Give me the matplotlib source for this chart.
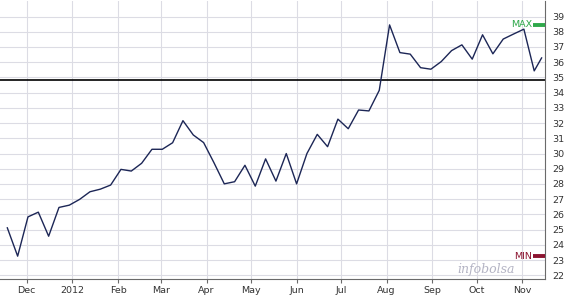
import numpy as np
import pandas as pd
import matplotlib
matplotlib.use('Agg')
from matplotlib import pyplot as plt
import matplotlib.dates as mdates

# weekly closes
dates = ['2011-11-18', '2011-11-25', '2011-12-02', '2011-12-09', '2011-12-16',
         '2011-12-23', '2011-12-30', '2012-01-06', '2012-01-13', '2012-01-20',
         '2012-01-27', '2012-02-03', '2012-02-10', '2012-02-17', '2012-02-24',
         '2012-03-02', '2012-03-09', '2012-03-16', '2012-03-23', '2012-03-30',
         '2012-04-06', '2012-04-13', '2012-04-20', '2012-04-27', '2012-05-04',
         '2012-05-11', '2012-05-18', '2012-05-25', '2012-06-01', '2012-06-08',
         '2012-06-15', '2012-06-22', '2012-06-29', '2012-07-06', '2012-07-13',
         '2012-07-20', '2012-07-27', '2012-08-03', '2012-08-10', '2012-08-17',
         '2012-08-24', '2012-08-31', '2012-09-07', '2012-09-14', '2012-09-21',
         '2012-09-28', '2012-10-05', '2012-10-12', '2012-10-19', '2012-10-26',
         '2012-11-02', '2012-11-09', '2012-11-14']
close = [25.12, 23.26, 25.84, 26.15, 24.57, 26.46, 26.61, 26.99, 27.49, 27.66,
         27.93, 28.96, 28.85, 29.36, 30.28, 30.28, 30.71, 32.16, 31.22, 30.72,
         29.40, 28.01, 28.15, 29.23, 27.86, 29.65, 28.19, 30.00, 28.01, 30.00,
         31.26, 30.45, 32.26, 31.63, 32.86, 32.80, 34.15, 38.45, 36.63, 36.53,
         35.64, 35.54, 36.04, 36.76, 37.14, 36.20, 37.80, 36.55, 37.52, 37.85,
         38.17, 35.43, 36.28]
ref_level = 34.8

month_ticks = ['2011-12-01', '2012-01-01', '2012-02-01', '2012-03-01', '2012-04-01',
               '2012-05-01', '2012-06-01', '2012-07-01', '2012-08-01', '2012-09-01',
               '2012-10-01', '2012-11-01']
month_labels = ['Dec', '2012', 'Feb', 'Mar', 'Apr', 'May', 'Jun', 'Jul', 'Aug',
                'Sep', 'Oct', 'Nov']
y_ticks = list(range(22, 40))

t = pd.to_datetime(dates)
close = np.array(close)

fig = plt.figure(figsize=(5.68, 3.01), dpi=100)
ax = fig.add_axes([0.0, 0.0731, 0.960, 0.9236])

ax.plot(t, close, color='#1c2656', lw=1.0, zorder=3)
ax.axhline(ref_level, color='black', lw=1.2, zorder=2)

ax.set_xlim(pd.Timestamp('2011-11-13 01:00'), pd.Timestamp('2012-11-16 12:00'))
ax.set_ylim(21.76, 40.02)

ax.set_xticks(pd.to_datetime(month_ticks))
ax.set_xticklabels(month_labels)
ax.set_yticks(y_ticks)
ax.yaxis.tick_right()

ax.grid(True, color='#dcdce4', lw=0.8, zorder=0)
for side in ['left', 'top']:
    ax.spines[side].set_visible(False)
ax.spines['bottom'].set_color('#6a6a6a')
ax.spines['right'].set_color('#6a6a6a')
ax.tick_params(axis='x', length=3, width=0.8, color='#6a6a6a', pad=2,
               labelsize=6.8, labelcolor='#333333')
ax.tick_params(axis='y', length=0, pad=5, labelsize=6.8, labelcolor='#333333')

# max / min markers on the right edge
imax = close.argmax()
imin = close.argmin()
xr = ax.get_xlim()[1]
bar_w = 8.5
ax.plot([xr - bar_w, xr], [close[imax]] * 2, color='#2ea84a', lw=2.8,
        solid_capstyle='butt', clip_on=False, zorder=4)
ax.text(xr - bar_w - 0.5, close[imax], 'MAX', color='#2ea84a', fontsize=6.8,
        ha='right', va='center')
ax.plot([xr - bar_w, xr], [close[imin]] * 2, color='#8c1430', lw=2.8,
        solid_capstyle='butt', clip_on=False, zorder=4)
ax.text(xr - bar_w - 0.5, close[imin], 'MIN', color='#8c1430', fontsize=6.8,
        ha='right', va='center')

ax.text(0.892, 0.035, 'infobolsa', transform=ax.transAxes, fontsize=9,
        family='serif', style='italic', color='#b4b4c4', ha='center', va='center')

fig.savefig('out.png', dpi=100)
